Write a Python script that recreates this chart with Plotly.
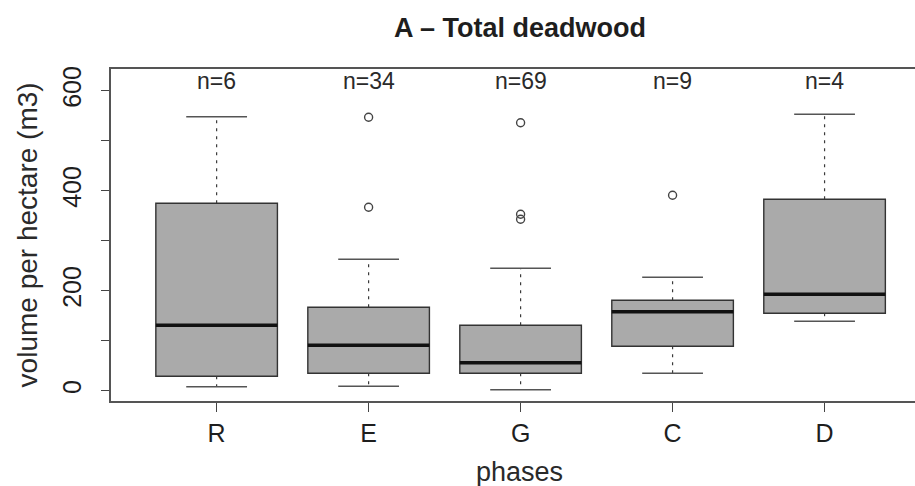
import plotly.graph_objects as go

# Deadwood volume per phase: five-number summaries read as boxplot statistics
categories = ["R", "E", "G", "C", "D"]
n_obs = [6, 34, 69, 9, 4]
lower_whisker = [8, 9, 2, 35, 139]
q1 = [29, 35, 35, 89, 155]
median = [131, 91, 56, 158, 193]
q3 = [375, 167, 131, 181, 383]
upper_whisker = [548, 263, 245, 227, 553]

# Points beyond the whiskers
outlier_group = ["E", "E", "G", "G", "G", "C"]
outlier_value = [547, 367, 536, 353, 343, 391]

y_ticks = [0, 100, 200, 300, 400, 500, 600]
y_tick_text = ["0", "", "200", "", "400", "", "600"]

FONT = "Liberation Sans, Arial, Helvetica, sans-serif"
INK = "#1e1e1e"
FILL = "#aaaaaa"
BOX_W = 0.8
CAP_W = 0.4

pos = list(range(1, len(categories) + 1))

fig = go.Figure()

# Boxes (Q1..Q3); whiskers drawn separately so they can be dashed
fig.add_trace(go.Box(
    x=pos, q1=q1, median=median, q3=q3,
    lowerfence=q1, upperfence=q3,
    width=BOX_W, fillcolor=FILL,
    line=dict(color="#333333", width=1.4),
    boxpoints=False, showlegend=False, hoverinfo="skip",
))

def segments(xs0, xs1, ys0, ys1):
    xx, yy = [], []
    for a, b, c, d in zip(xs0, xs1, ys0, ys1):
        xx += [a, b, None]
        yy += [c, d, None]
    return xx, yy

# Dashed whiskers
wx, wy = segments(pos + pos, pos + pos, q3 + q1, upper_whisker + lower_whisker)
fig.add_trace(go.Scatter(x=wx, y=wy, mode="lines",
                         line=dict(color="#3a3a3a", width=1.2, dash="3px,5px"),
                         showlegend=False, hoverinfo="skip"))

# Whisker caps
cx0 = [p - CAP_W / 2 for p in pos]
cx1 = [p + CAP_W / 2 for p in pos]
cx, cy = segments(cx0 + cx0, cx1 + cx1, upper_whisker + lower_whisker, upper_whisker + lower_whisker)
fig.add_trace(go.Scatter(x=cx, y=cy, mode="lines",
                         line=dict(color="#555555", width=1.6),
                         showlegend=False, hoverinfo="skip"))

# Thick median bars
mx0 = [p - BOX_W / 2 for p in pos]
mx1 = [p + BOX_W / 2 for p in pos]
mx, my = segments(mx0, mx1, median, median)
fig.add_trace(go.Scatter(x=mx, y=my, mode="lines",
                         line=dict(color="#111111", width=3.5),
                         showlegend=False, hoverinfo="skip"))

# Outliers as open circles
ox = [pos[categories.index(g)] for g in outlier_group]
fig.add_trace(go.Scatter(x=ox, y=outlier_value, mode="markers",
                         marker=dict(symbol="circle-open", size=8,
                                     color="#444444", line=dict(width=1.4)),
                         showlegend=False, hoverinfo="skip"))

# Sample sizes along the top
for p, n in zip(pos, n_obs):
    fig.add_annotation(x=p, y=620, xref="x", yref="y", text=f"n={n}",
                       showarrow=False, xanchor="center", yanchor="middle",
                       font=dict(family=FONT, size=23, color="#2a2a2a"))

# Title and axis titles
fig.add_annotation(x=0.5085, y=1.125, xref="paper", yref="paper",
                   text="<b>A \u2013 Total deadwood</b>", showarrow=False,
                   xanchor="center", yanchor="middle",
                   font=dict(family=FONT, size=27, color=INK))
fig.add_annotation(x=-0.104, y=0.5, xref="paper", yref="paper",
                   text="volume per hectare (m3)", textangle=-90, showarrow=False,
                   xanchor="center", yanchor="middle",
                   font=dict(family=FONT, size=28, color="#2a2a2a"))
fig.add_annotation(x=0.5085, y=-0.214, xref="paper", yref="paper",
                   text="phases", showarrow=False,
                   xanchor="center", yanchor="middle",
                   font=dict(family=FONT, size=27, color="#2a2a2a"))

fig.update_layout(
    width=915, height=486,
    margin=dict(l=111, r=0, t=69, b=85),
    paper_bgcolor="white", plot_bgcolor="white",
    showlegend=False,
    xaxis=dict(
        range=[0.305, 5.595], tickvals=pos, ticktext=categories,
        ticks="outside", ticklen=9, tickwidth=1.2, tickcolor="#444444",
        showline=True, mirror=True, linecolor="#555555", linewidth=1.5,
        showgrid=False, zeroline=False,
        tickfont=dict(family=FONT, size=25, color=INK),
        ticklabelstandoff=0,
    ),
    yaxis=dict(
        range=[-20.6, 643.4], tickvals=y_ticks, ticktext=y_tick_text,
        tickangle=-90,
        ticks="outside", ticklen=8, tickwidth=1.2, tickcolor="#444444",
        showline=True, mirror=False, linecolor="#555555", linewidth=1.5,
        showgrid=False, zeroline=False,
        tickfont=dict(family=FONT, size=25, color=INK),
        ticklabelstandoff=10,
    ),
)

fig.write_html("out.html")
